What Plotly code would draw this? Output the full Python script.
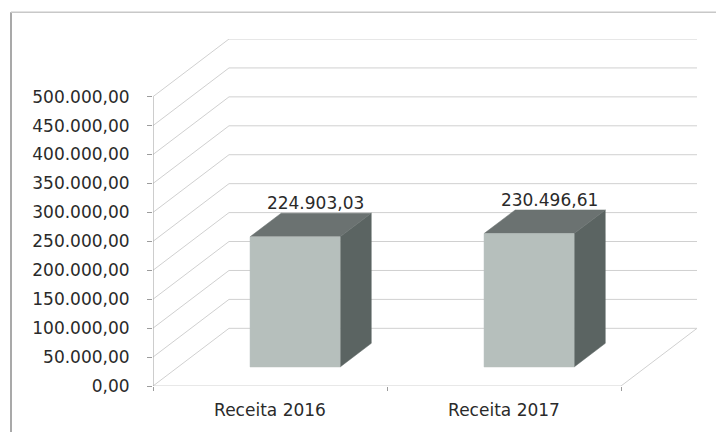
import plotly.graph_objects as go

# ---- data ----
categories = ["Receita 2016", "Receita 2017"]
values = [224903.03, 230496.61]
value_labels = ["224.903,03", "230.496,61"]
y_tickvals = [0, 50000, 100000, 150000, 200000, 250000, 300000, 350000, 400000, 450000, 500000]
y_ticktext = ["0,00", "50.000,00", "100.000,00", "150.000,00", "200.000,00", "250.000,00",
              "300.000,00", "350.000,00", "400.000,00", "450.000,00", "500.000,00"]

# ---- 3D projection constants (axis units) ----
YMAX = 500000
PX_CAT = 234.0          # px per category on front plane
PX_Y = 291.0 / YMAX     # px per value unit
DXP, DYP = 76.0, 58.0   # depth offset in px
DX = DXP / PX_CAT
DY = DYP / PX_Y
D0, D1 = 0.33, 0.74     # bar depth span (fraction)
BW = 0.385              # bar width as fraction of category

n = len(categories)
OFF = 8                 # page body margin
W, H = 724 - OFF, 432 - OFF
L, B = 153 - OFF, 44
plot_h = 291 + DYP
T = H - B - plot_h
plot_w = (n + DX) * PX_CAT
R = W - L - plot_w

GRID = "#d0d0d0"
AXIS = "#9c9c9c"
FRONT = "#b6bfbc"
SIDE = "#5b6462"
TOP = "#6b7271"
FONT = "DejaVu Sans"
TXT = "#2a2a2a"

fig = go.Figure()

def line(xs, ys, color, width=1):
    fig.add_trace(go.Scatter(x=xs, y=ys, mode="lines", line=dict(color=color, width=width),
                             hoverinfo="skip", showlegend=False))

# back wall gridlines + side wall diagonals
for v in y_tickvals:
    line([DX, n + DX], [v + DY, v + DY], GRID)
    line([0, DX], [v, v + DY], GRID)
# floor right edge
line([n, n + DX], [0, DY], GRID)
# floor front edge and front vertical axis
line([0, n], [0, 0], GRID)
line([0, 0], [0, YMAX], AXIS)

def poly(xs, ys, color):
    fig.add_trace(go.Scatter(x=xs + [xs[0]], y=ys + [ys[0]], mode="lines", fill="toself",
                             fillcolor=color, line=dict(color=color, width=0.5),
                             hoverinfo="skip", showlegend=False))

for i, v in enumerate(values):
    c = i + 0.5
    xl, xr = c - BW / 2, c + BW / 2
    # side face
    poly([xr + D0 * DX, xr + D1 * DX, xr + D1 * DX, xr + D0 * DX],
         [D0 * DY, D1 * DY, v + D1 * DY, v + D0 * DY], SIDE)
    # top face
    poly([xl + D0 * DX, xr + D0 * DX, xr + D1 * DX, xl + D1 * DX],
         [v + D0 * DY, v + D0 * DY, v + D1 * DY, v + D1 * DY], TOP)
    # front face
    poly([xl + D0 * DX, xr + D0 * DX, xr + D0 * DX, xl + D0 * DX],
         [D0 * DY, D0 * DY, v + D0 * DY, v + D0 * DY], FRONT)

# data labels
fig.add_trace(go.Scatter(
    x=[i + 0.5 + 0.6 * DX for i in range(n)],
    y=[v + D1 * DY for v in values],
    mode="text", text=value_labels, textposition="top center",
    textfont=dict(family=FONT, size=17, color=TXT),
    hoverinfo="skip", showlegend=False))

fig.update_xaxes(range=[0, n + DX], tickmode="array", tickvals=[i + 0.5 for i in range(n)],
                 ticktext=categories, ticks="", showgrid=False, zeroline=False, showline=False,
                 tickfont=dict(family=FONT, size=17, color=TXT), ticklabelstandoff=12,
                 minor=dict(tickmode="array", tickvals=list(range(n + 1)), ticks="outside",
                            ticklen=4, tickcolor=AXIS, showgrid=False))
fig.update_yaxes(range=[0, YMAX + DY], tickmode="array", tickvals=y_tickvals, ticktext=y_ticktext,
                 ticks="outside", ticklen=5, tickcolor=AXIS, showgrid=False, zeroline=False,
                 showline=False, tickfont=dict(family=FONT, size=17, color=TXT),
                 ticklabelstandoff=14)

# helpers: page pixel -> paper coords
def px_to_paper_x(px):
    return (px - OFF - L) / plot_w
def px_to_paper_y(py):
    return (H - B - (py - OFF)) / plot_h

fig.update_layout(
    width=W, height=H, margin=dict(l=L, r=R, t=T, b=B, pad=0),
    paper_bgcolor="white", plot_bgcolor="white", showlegend=False,
    shapes=[
        dict(type="line", xref="paper", yref="paper", x0=px_to_paper_x(11), x1=px_to_paper_x(11),
             y0=px_to_paper_y(12), y1=px_to_paper_y(440), line=dict(color="#8c8c8c", width=1.5)),
        dict(type="line", xref="paper", yref="paper", x0=px_to_paper_x(11), x1=px_to_paper_x(721),
             y0=px_to_paper_y(12), y1=px_to_paper_y(12), line=dict(color="#c8c8c8", width=1.5)),
        dict(type="line", xref="paper", yref="paper", x0=px_to_paper_x(721), x1=px_to_paper_x(721),
             y0=px_to_paper_y(12), y1=px_to_paper_y(440), line=dict(color="#c8c8c8", width=1.5)),
    ],
)

fig.write_html("out.html")
